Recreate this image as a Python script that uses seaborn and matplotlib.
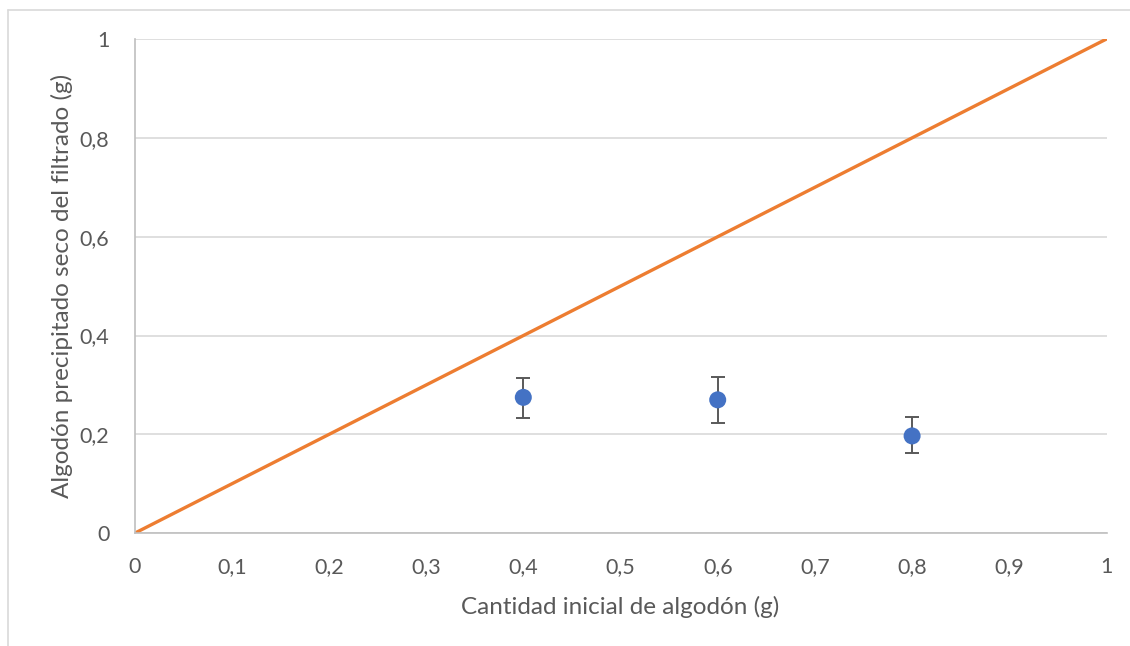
import numpy as np
import pandas as pd
import matplotlib
matplotlib.use("Agg")
import matplotlib.pyplot as plt
import seaborn as sns
from matplotlib.lines import Line2D

# data
cantidad_inicial = [0.4, 0.6, 0.8]
precipitado = [0.275, 0.270, 0.197]
err_abajo = [0.041, 0.046, 0.034]
err_arriba = [0.040, 0.046, 0.038]

ref_x = [0, 1]
ref_y = [0, 1]

x_ticks = [0, 0.1, 0.2, 0.3, 0.4, 0.5, 0.6, 0.7, 0.8, 0.9, 1]
x_labels = ["0", "0,1", "0,2", "0,3", "0,4", "0,5", "0,6", "0,7", "0,8", "0,9", "1"]
y_ticks = [0, 0.2, 0.4, 0.6, 0.8, 1]
y_labels = ["0", "0,2", "0,4", "0,6", "0,8", "1"]

x_title = "Cantidad inicial de algodón (g)"
y_title = "Algodón precipitado seco del filtrado (g)"

sns.set_style("white")
plt.rcParams["font.family"] = ["Lato", "DejaVu Sans"]

gris_texto = "#595959"
gris_grid = "#d9d9d9"

fig = plt.figure(figsize=(11.3, 6.46), dpi=100)
ax = fig.add_axes([134.5 / 1130, 1 - 533.3 / 646, 972 / 1130, 494.3 / 646])

df_pts = pd.DataFrame({"x": cantidad_inicial, "y": precipitado})
df_ref = pd.DataFrame({"x": ref_x, "y": ref_y})

# error bars first so markers sit on top
ax.errorbar(cantidad_inicial, precipitado, yerr=[err_abajo, err_arriba],
            fmt="none", ecolor=gris_texto, elinewidth=1.4, capsize=5,
            capthick=1.4, zorder=3)
sns.lineplot(data=df_ref, x="x", y="y", ax=ax, color="#ED7D31",
             linewidth=2.4, zorder=2)
sns.scatterplot(data=df_pts, x="x", y="y", ax=ax, color="#4472C4",
                s=150, edgecolor="none", zorder=4)

ax.set_xlim(0, 1)
ax.set_ylim(0, 1)
ax.set_xticks(x_ticks)
ax.set_xticklabels(x_labels)
ax.set_yticks(y_ticks)
ax.set_yticklabels(y_labels)
ax.tick_params(axis="both", length=0, labelsize=15.5, colors=gris_texto)
ax.tick_params(axis="x", pad=17)
ax.tick_params(axis="y", pad=18)

ax.grid(axis="y", color=gris_grid, linewidth=1.2)
ax.set_axisbelow(True)
for side in ["top", "right"]:
    ax.spines[side].set_visible(False)
for side in ["left", "bottom"]:
    ax.spines[side].set_color("#bfbfbf")
    ax.spines[side].set_linewidth(1.2)

ax.set_xlabel(x_title, fontsize=17.5, color=gris_texto, labelpad=14)
ax.set_ylabel(y_title, fontsize=17.5, color=gris_texto, labelpad=5)

# outer chart frame (only top and left visible in the crop)
fig.add_artist(Line2D([8 / 1130, 1], [1 - 9.5 / 646, 1 - 9.5 / 646],
                      transform=fig.transFigure, color=gris_grid, linewidth=1.2))
fig.add_artist(Line2D([8 / 1130, 8 / 1130], [0, 1 - 9.5 / 646],
                      transform=fig.transFigure, color=gris_grid, linewidth=1.2))

fig.savefig("out.png", dpi=100)
plt.close(fig)
